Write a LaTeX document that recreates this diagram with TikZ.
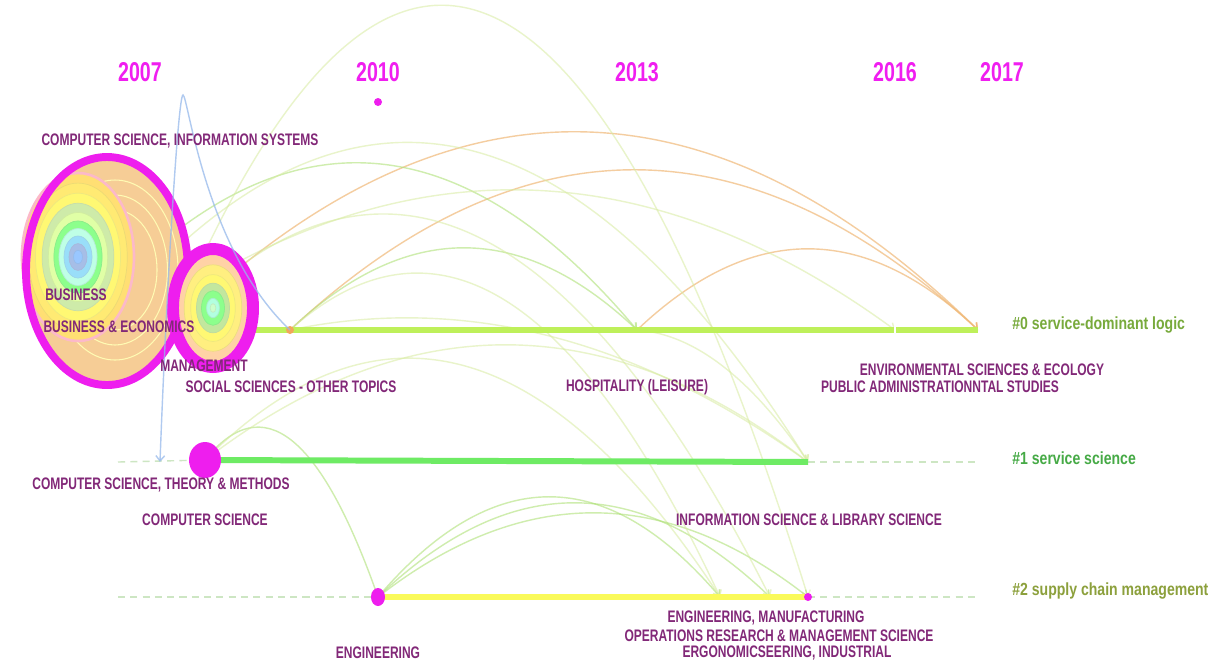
\documentclass[tikz,border=0pt]{standalone}
\usepackage{fontspec}
\usetikzlibrary{arrows.meta, calc}
\newfontfamily\labfont[FakeStretch=0.72]{Liberation Sans}
\newfontfamily\clufont[FakeStretch=0.8]{Liberation Sans}
\definecolor{yearc}{RGB}{240,30,240}
\definecolor{labc}{RGB}{130,40,120}
\definecolor{cluzero}{RGB}{120,170,60}
\definecolor{cluone}{RGB}{70,170,70}
\definecolor{clutwo}{RGB}{140,160,60}
\definecolor{lnzero}{RGB}{190,240,90}
\definecolor{lnone}{RGB}{110,235,100}
\definecolor{lntwo}{RGB}{250,250,90}
\definecolor{dashc}{RGB}{205,230,195}
\definecolor{magc}{RGB}{238,30,238}
\definecolor{peach}{RGB}{246,205,150}
\definecolor{arcor}{RGB}{240,185,120}
\definecolor{arcgr}{RGB}{175,225,120}
\definecolor{arcfa}{RGB}{215,235,160}
\definecolor{arcbl}{RGB}{150,185,235}

\begin{document}
\begin{tikzpicture}[x=0.02cm, y=-0.02cm,
    lab/.style={font=\labfont\bfseries\fontsize{9.5}{11}\selectfont, text=labc, inner sep=1pt},
    yr/.style={font=\labfont\bfseries\fontsize{15.5}{17}\selectfont, text=yearc},
    clu/.style={font=\clufont\bfseries\fontsize{10}{12}\selectfont, anchor=west, inner sep=0pt},
    link/.style={line width=0.8pt, -{Straight Barb[length=3pt,width=5pt]}},
    oarc/.style={link, color=arcor, opacity=0.7},
    garc/.style={link, color=arcgr, opacity=0.6},
    farc/.style={link, color=arcfa, opacity=0.55},
    guide/.style={dash pattern=on 4pt off 3pt, color=dashc, line width=0.8pt},
    magring/.style={draw=magc}]

  \fill[white] (0,0) rectangle (1210,664);
  \useasboundingbox (0,0) rectangle (1210,664);

  % timeline points
  \coordinate (r0a) at (170,330);
  \coordinate (r0b) at (75,330);
  \coordinate (r0c) at (100,330);
  \coordinate (r0d) at (130,330);
  \coordinate (dot0) at (290,330);
  \coordinate (t13) at (637,330);
  \coordinate (t16) at (895,330);
  \coordinate (t17) at (978,330);
  \coordinate (cst) at (205,460);
  \coordinate (bl1) at (160,462);
  \coordinate (spk) at (183,95);
  \coordinate (r1end) at (808,462);
  \coordinate (eng) at (378,597);
  \coordinate (r2a) at (720,597);
  \coordinate (r2b) at (770,597);
  \coordinate (r2end) at (808,597);

  % citation arcs
  \foreach \a/\b/\h/\s in {r0a/t17/198/oarc, dot0/t17/160/oarc, t13/t17/81/oarc,
      r0b/t13/167/garc, dot0/t13/82/garc, r0c/r1end/249/farc, r0d/t16/140/farc,
      r0a/r2end/448/farc, dot0/r1end/60/farc, t13/r1end/30/farc,
      cst/eng/88/garc, cst/r2a/163/farc, cst/r1end/116/farc,
      eng/r2a/100/garc, eng/r2b/94/garc, eng/r2end/84/garc,
      dot0/r2a/163/farc, r0a/r2b/230/farc}{
    \coordinate (q) at ($(\a)!0.5!(\b)+(0,{-2*\h})$);
    \draw[\s] (\a) .. controls ($(\a)!0.667!(q)$) and ($(\b)!0.667!(q)$) .. (\b);
  }

  % timelines
  \draw[guide] (118,462) -- (cst);
  \draw[guide] (r1end) -- (980,462);
  \draw[guide] (118,597) -- (eng);
  \draw[guide] (r2end) -- (980,597);
  \draw[line width=3.4pt, lnzero] (150,330) -- (t17);
  \draw[line width=3.4pt, lnone] (cst) -- (r1end);
  \draw[line width=3.4pt, lntwo] (eng) -- (r2end);

  % BUSINESS & ECONOMICS
  \fill[peach] (107,271) ellipse (83 and 116);
  \foreach \f in {0.9,0.75,0.6}
    \draw[yellow!30!white, line width=0.6pt] (115,270) ellipse ({70*\f} and {100*\f});
  \foreach \f/\c in {1/orange!45!yellow!55!white, 0.88/orange!30!yellow!55!white,
      0.76/yellow!55!white, 0.64/yellow!45!green!35!white, 0.53/green!35!yellow!35!white,
      0.43/green!45!white, 0.34/green!40!cyan!25!white, 0.25/cyan!40!white,
      0.16/cyan!50!blue!35!white, 0.08/blue!55!cyan!40!white}
    \filldraw[fill=\c, draw=\c!85!gray, line width=0.4pt] (78,257) ellipse ({56*\f} and {84*\f});
  \draw[orange!50!magc!40!white, line width=1.5pt] (78,257) ellipse (56 and 84);
  \draw[magring, line width=4.5pt] (107,271) ellipse (81 and 114);

  % MANAGEMENT
  \foreach \f/\c in {1/orange!35!white, 0.8/orange!25!yellow!50!white, 0.62/yellow!55!white,
      0.46/yellow!40!green!40!white, 0.32/green!45!white, 0.18/green!40!cyan!30!white,
      0.08/green!20!white}
    \filldraw[fill=\c, draw=\c!85!gray, line width=0.4pt] (213,308) ellipse ({36*\f} and {54*\f});
  \draw[magring, line width=6.8pt] (213,308) ellipse (40 and 59);

  % other nodes
  \fill[magc] (cst) ellipse (16 and 18);
  \fill[magc] (eng) ellipse (7 and 9);
  \fill[magc] (r2end) circle (4);
  \fill[magc] (378,102) circle (4);
  \fill[orange!70!brown!70] (dot0) circle (4);
  \draw[white, line width=1.2pt] ($(t16)+(0,-4)$) -- ($(t16)+(0,4)$);

  % blue spike
  \draw[link, arcbl, opacity=0.75] (dot0) .. controls (205,250) and (188,95) .. (spk)
    .. controls (178,95) and (166,300) .. (bl1);

  % years
  \foreach \x/\y in {140/2007, 378/2010, 637/2013, 895/2016, 1002/2017}
    \node[yr] (y\y) at (\x,72) {\y};

  % labels
  \node[lab] (lcsis) at (180,141) {COMPUTER SCIENCE, INFORMATION SYSTEMS};
  \node[lab] (lbus) at (76,295) {BUSINESS};
  \node[lab] (lbe) at (119,327) {BUSINESS \& ECONOMICS};
  \node[lab] (lman) at (204,366) {MANAGEMENT};
  \node[lab] (lsoc) at (291,387) {SOCIAL SCIENCES - OTHER TOPICS};
  \node[lab] (lhos) at (637,387) {HOSPITALITY (LEISURE)};
  \node[lab] (lenv) at (982,370) {ENVIRONMENTAL SCIENCES \& ECOLOGY};
  \node[lab] (lpub) at (940,387) {PUBLIC ADMINISTRATIONNTAL STUDIES};
  \node[lab] (lcst) at (161,485) {COMPUTER SCIENCE, THEORY \& METHODS};
  \node[lab] (lcs) at (205,520) {COMPUTER SCIENCE};
  \node[lab] (linf) at (809,520) {INFORMATION SCIENCE \& LIBRARY SCIENCE};
  \node[lab] (leng) at (378,653) {ENGINEERING};
  \node[lab] (lmanu) at (766,618) {ENGINEERING, MANUFACTURING};
  \node[lab] (lops) at (779,636) {OPERATIONS RESEARCH \& MANAGEMENT SCIENCE};
  \node[lab] (lerg) at (787,653) {ERGONOMICSEERING, INDUSTRIAL};

  % clusters
  \node[clu, text=cluzero] (c0) at (1012,325) {\#0 service-dominant logic};
  \node[clu, text=cluone] (c1) at (1012,458) {\#1 service science};
  \node[clu, text=clutwo] (c2) at (1012,591) {\#2 supply chain management};
\end{tikzpicture}
\end{document}
